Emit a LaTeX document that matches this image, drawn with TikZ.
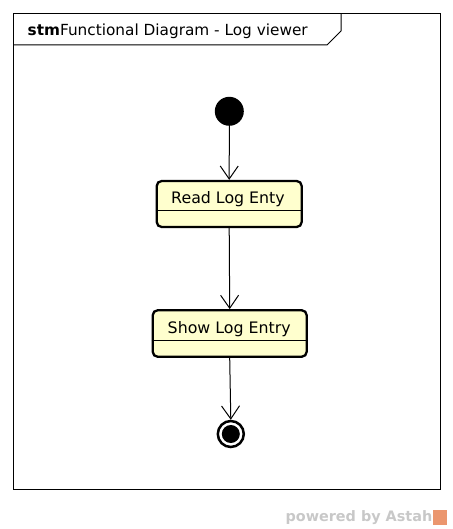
\documentclass[tikz,border=0pt]{standalone}
\usepackage{fontspec}
\setmainfont{DejaVu Sans}
\usetikzlibrary{arrows.meta,calc}
\definecolor{statefill}{RGB}{255,255,206}
\definecolor{wmgray}{RGB}{200,200,200}
\definecolor{astahorange}{RGB}{235,150,110}
\tikzset{
  px/.style={x=1bp,y=-1bp},
  statebox/.style={draw=black,line width=2.3bp,rounded corners=5bp,fill=statefill,inner sep=0pt},
  statetext/.style={font=\fontsize{15.8bp}{18bp}\selectfont,inner sep=0pt,anchor=base},
  trans/.style={line width=1bp,-{Straight Barb[length=13bp,width=18bp,line width=1bp]}},
  framebox/.style={draw=black,line width=1bp},
}
\begin{document}
\begin{tikzpicture}[px]
\useasboundingbox (0,0) rectangle (453,529);
% frame
\draw[framebox] (13.5,13.5) rectangle (440.5,489);
\draw[framebox] (13.5,45) -- (327,45) -- (341,31) -- (341,13.5);
\node[anchor=base west,inner sep=0pt,font=\fontsize{15.3bp}{17bp}\selectfont] (title) at (27.5,35.5) {\textbf{stm}Functional Diagram - Log viewer};
% initial
\node[circle,fill=black,minimum size=29bp,inner sep=0pt] (init) at (229.3,111.3) {};
% read
\node[statebox,minimum width=145bp,minimum height=46bp] (read) at (229.2,204) {};
\node[statetext] (readt) at (228,203.5) {Read Log Enty};
\coordinate (readsep) at (229.2,210);
\draw[line width=1bp] (read.west |- readsep) -- (read.east |- readsep);
% show
\node[statebox,minimum width=154bp,minimum height=46.5bp] (show) at (229.7,333.5) {};
\node[statetext] (showt) at (229.2,333.5) {Show Log Entry};
\coordinate (showsep) at (229.7,340);
\draw[line width=1bp] (show.west |- showsep) -- (show.east |- showsep);
% final
\node[circle,draw=black,line width=2.5bp,fill=white,minimum size=26bp,inner sep=0pt] (final) at (230.8,434) {};
\node[circle,fill=black,minimum size=18bp,inner sep=0pt] (finalin) at (final.center) {};
% transitions
\draw[trans] (init.south) -- (read.north);
\draw[trans] (read.south) -- (show.north);
\draw[trans] (show.south) -- (final.north);
% watermark
\node[anchor=base east,inner sep=0pt,text=wmgray,font=\fontsize{14.4bp}{16bp}\selectfont\bfseries] (wm) at (432.5,521) {powered by Astah};
\node[anchor=west,fill=astahorange,minimum width=14bp,minimum height=15bp,inner sep=0pt] (logo) at (wm.east) {};
\end{tikzpicture}
\end{document}
